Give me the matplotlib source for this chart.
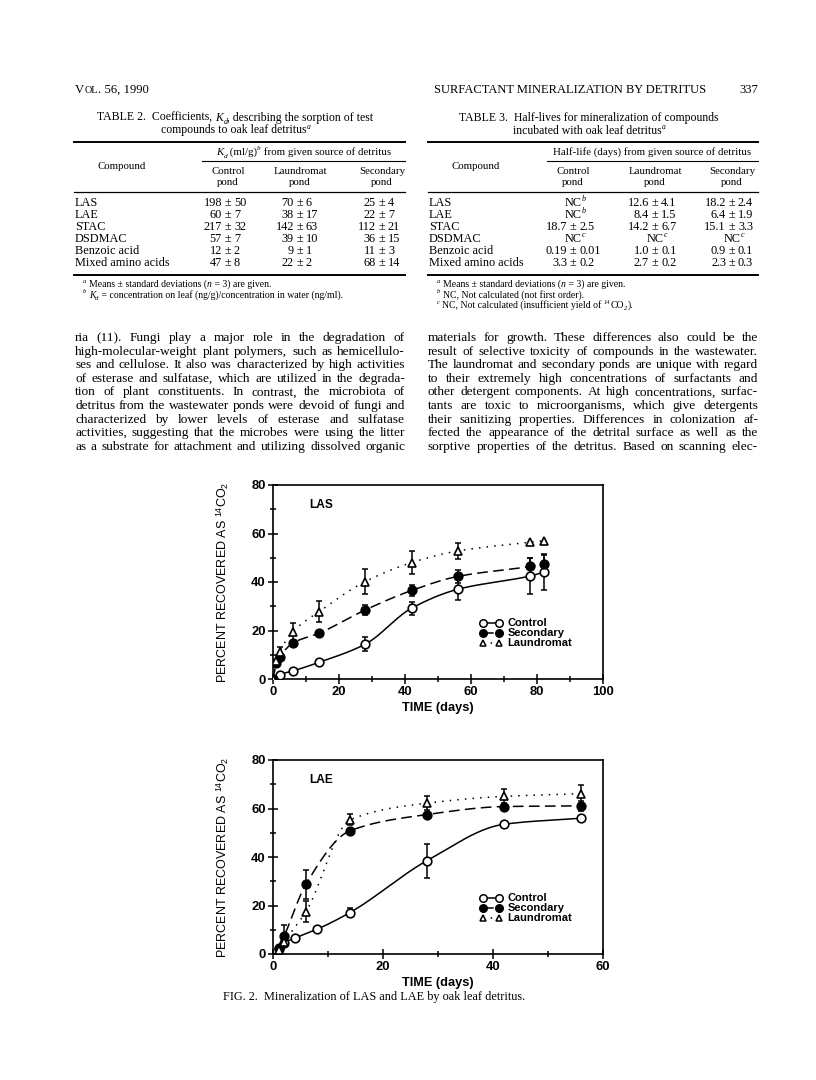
import numpy as np
import matplotlib
matplotlib.use("Agg")
import matplotlib.pyplot as plt
from matplotlib.lines import Line2D
from matplotlib.ticker import MultipleLocator

# ---- data ----
t2_compounds = ["LAS", "LAE", "STAC", "DSDMAC", "Benzoic acid", "Mixed amino acids"]
t2_control = ["198 ± 50", "60 ± 7", "217 ± 32", "57 ± 7", "12 ± 2", "47 ± 8"]
t2_laund = ["70 ± 6", "38 ± 17", "142 ± 63", "39 ± 10", "9 ± 1", "22 ± 2"]
t2_second = ["25 ± 4", "22 ± 7", "112 ± 21", "36 ± 15", "11 ± 3", "68 ± 14"]

t3_compounds = t2_compounds
t3_control = ["NC^b", "NC^b", "18.7 ± 2.5", "NC^c", "0.19 ± 0.01", "3.3 ± 0.2"]
t3_laund = ["12.6 ± 4.1", "8.4 ± 1.5", "14.2 ± 6.7", "NC^c", "1.0 ± 0.1", "2.7 ± 0.2"]
t3_second = ["18.2 ± 2.4", "6.4 ± 1.9", "15.1 ± 3.3", "NC^c", "0.9 ± 0.1", "2.3 ± 0.3"]

left_par = [
    "ria (11). Fungi play a major role in the degradation of",
    "high-molecular-weight plant polymers, such as hemicellulo-",
    "ses and cellulose. It also was characterized by high activities",
    "of esterase and sulfatase, which are utilized in the degrada-",
    "tion of plant constituents. In contrast, the microbiota of",
    "detritus from the wastewater ponds were devoid of fungi and",
    "characterized by lower levels of esterase and sulfatase",
    "activities, suggesting that the microbes were using the litter",
    "as a substrate for attachment and utilizing dissolved organic",
]
right_par = [
    "materials for growth. These differences also could be the",
    "result of selective toxicity of compounds in the wastewater.",
    "The laundromat and secondary ponds are unique with regard",
    "to their extremely high concentrations of surfactants and",
    "other detergent components. At high concentrations, surfac-",
    "tants are toxic to microorganisms, which give detergents",
    "their sanitizing properties. Differences in colonization af-",
    "fected the appearance of the detrital surface as well as the",
    "sorptive properties of the detritus. Based on scanning elec-",
]

# LAS mineralization (% recovered as 14CO2)
las_t_control = [0, 2, 6, 14, 28, 42, 56, 78, 82]
las_control = [0, 1.8, 3.3, 6.9, 14.4, 29.2, 37.0, 42.5, 44.0]
las_control_err = [0, 0, 0, 0, 3.0, 2.7, 4.5, 7.5, 7.5]
las_t_second = [0, 1, 2, 6, 14, 28, 42, 56, 78, 82]
las_second = [0, 6.6, 9.0, 14.8, 18.9, 28.5, 36.5, 42.3, 46.4, 47.3]
las_second_err = [0, 0, 0, 0, 0, 2.2, 2.2, 2.7, 3.5, 4.0]
las_t_laund = [0, 1, 2, 6, 14, 28, 42, 56, 78, 82]
las_laund = [0, 7.5, 11.2, 19.5, 27.8, 40.2, 48.0, 52.8, 56.4, 57.0]
las_laund_err = [0, 0, 2.0, 3.7, 4.2, 5.0, 4.6, 3.4, 0, 0]

# LAE mineralization
lae_t_control = [1, 2, 4, 8, 14, 28, 42, 56]
lae_control = [2.2, 4.5, 6.6, 10.2, 17.1, 38.5, 53.5, 56.0]
lae_control_err = [0, 0, 0, 0, 1.8, 7.0, 0, 0]
lae_t_second = [1, 2, 6, 14, 28, 42, 56]
lae_second = [2.5, 7.3, 28.8, 50.8, 57.5, 60.8, 61.1]
lae_second_err = [0, 4.5, 6.0, 0, 0, 1.5, 2.0]
lae_t_laund = [1, 2, 6, 14, 28, 42, 56]
lae_laund = [1.5, 5.0, 17.5, 55.3, 62.2, 65.0, 66.1]
lae_laund_err = [0, 1.5, 4.4, 2.3, 3.0, 3.0, 3.7]

W, H = 816, 1080
SERIF = "Liberation Serif"
SANS = "Liberation Sans"
plt.rcParams["mathtext.fontset"] = "custom"
plt.rcParams["mathtext.rm"] = SERIF
plt.rcParams["mathtext.it"] = SERIF + ":italic"
plt.rcParams["mathtext.bf"] = SERIF + ":bold"
plt.rcParams["mathtext.sf"] = SANS

fig = plt.figure(figsize=(W / 100, H / 100), dpi=100)
rend = fig.canvas.get_renderer()


def txt(x, y, s, size=8.6, ha="left", va="baseline", family=SERIF, **kw):
    return fig.text(x / W, 1 - y / H, s, fontsize=size, ha=ha, va=va,
                    family=family, **kw)


def rich(x, y, parts, size, ha="left"):
    # pieces: (text, kind) with kind in "", "it", "sup", "sub", "sc"
    arts = []
    for s, kind in parts:
        if kind == "sup":
            a, dy = txt(0, 0, s, size * 0.65, style="italic"), -0.42 * size
        elif kind == "sub":
            a, dy = txt(0, 0, s, size * 0.68, style="italic"), 0.25 * size
        elif kind == "it":
            a, dy = txt(0, 0, s, size, style="italic"), 0
        elif kind == "sc":
            a, dy = txt(0, 0, s, size * 0.8), 0
        else:
            a, dy = txt(0, 0, s, size), 0
        arts.append((a, a.get_window_extent(rend).width, dy * 100 / 72))
    total = sum(w for _, w, _ in arts)
    x0 = {"left": x, "center": x - total / 2, "right": x - total}[ha]
    for a, w, dy in arts:
        a.set_position((x0 / W, 1 - (y + dy) / H))
        x0 += w


def hrule(x0, x1, y, lw=0.8):
    fig.add_artist(Line2D([x0 / W, x1 / W], [1 - y / H] * 2, lw=lw,
                          color="k", transform=fig.transFigure))


def cell(xpm, y, s, size=8.6):
    if "±" in s:
        a, b = s.split(" ± ")
        txt(xpm - 6, y, a, size, ha="right")
        txt(xpm, y, "±", size, ha="center")
        txt(xpm + 6, y, b, size, ha="left")
    elif "^" in s:
        a, b = s.split("^")
        rich(xpm + 2, y, [(a, ""), (b, "sup")], size, ha="center")
    else:
        txt(xpm, y, s, size, ha="center")


def justified(lines, x0, x1, y0, dy, size):
    for k, line in enumerate(lines):
        words = line.split()
        arts = [txt(0, 0, w, size) for w in words]
        widths = [a.get_window_extent(rend).width for a in arts]
        gap = (x1 - x0 - sum(widths)) / (len(words) - 1)
        x = x0
        for a, w in zip(arts, widths):
            a.set_position((x / W, 1 - (y0 + k * dy) / H))
            x += w + gap


def table(x0, x1, title, head, sub_x0, cols, compound_x, names, values, foot):
    cx_title = (x0 + x1) / 2 - 4
    rich(cx_title, 121, title[0], 8.5, ha="center")
    rich(cx_title, 133.5, title[1], 8.5, ha="center")
    hrule(x0, x1, 142, 1.4)
    rich((sub_x0 + x1) / 2, 155, head, 7.8, ha="center")
    hrule(sub_x0, x1, 161, 0.8)
    txt(compound_x, 169, "Compound", 7.8, ha="center")
    for cx, lab in zip(cols, ["Control", "Laundromat", "Secondary"]):
        txt(cx, 174, lab, 7.8, ha="center")
        txt(cx, 185, "pond", 7.8, ha="center")
    hrule(x0, x1, 192, 0.9)
    for i, name in enumerate(names):
        y = 206 + 12.1 * i
        txt(x0 + 1, y, name, 8.8)
        for cx, col in zip(cols, values):
            cell(cx, y, col[i], 8.8)
    hrule(x0, x1, 275, 1.4)
    for j, (mark, f) in enumerate(foot):
        rich(x0 + 9, 287 + 10.5 * j, [(mark, "sup"), (" ", "")] + f, 7.0)


# ---- page header ----
rich(75, 93, [("V", ""), ("OL", "sc"), (". 56, 1990", "")], 9.2)
txt(434, 93, "SURFACTANT MINERALIZATION BY DETRITUS", 9.0)
txt(758, 93, "337", 9.0, ha="right")

table(74, 405,
      [[("TABLE 2.  Coefficients, ", ""), ("K", "it"), ("d", "sub"),
        (", describing the sorption of test", "")],
       [("compounds to oak leaf detritus", ""), ("a", "sup")]],
      [("K", "it"), ("d", "sub"), (" (ml/g)", ""), ("b", "sup"),
       (" from given source of detritus", "")], 202,
      [228, 300, 382], 122, t2_compounds, [t2_control, t2_laund, t2_second],
      [("a", [("Means ± standard deviations (", ""), ("n", "it"),
              (" = 3) are given.", "")]),
       ("b", [("K", "it"), ("d", "sub"),
              (" = concentration on leaf (ng/g)/concentration in water (ng/ml).", "")])])

table(428, 758,
      [[("TABLE 3.  Half-lives for mineralization of compounds", "")],
       [("incubated with oak leaf detritus", ""), ("a", "sup")]],
      [("Half-life (days) from given source of detritus", "")], 547,
      [573, 655, 732], 476, t3_compounds, [t3_control, t3_laund, t3_second],
      [("a", [("Means ± standard deviations (", ""), ("n", "it"),
              (" = 3) are given.", "")]),
       ("b", [("NC, Not calculated (not first order).", "")]),
       ("c", [("NC, Not calculated (insufficient yield of ", ""), ("14", "sup"),
              ("CO", ""), ("2", "sub"), (").", "")])])

justified(left_par, 75, 405, 341, 13.6, 9.6)
justified(right_par, 428, 758, 341, 13.6, 9.6)


# ---- charts ----
def pchip(x, y, n=300):
    x = np.asarray(x, float)
    y = np.asarray(y, float)
    h = np.diff(x)
    d = np.diff(y) / h
    m = np.zeros_like(y)
    m[0], m[-1] = d[0], d[-1]
    for k in range(1, len(x) - 1):
        if d[k - 1] * d[k] > 0:
            w1 = 2 * h[k] + h[k - 1]
            w2 = h[k] + 2 * h[k - 1]
            m[k] = (w1 + w2) / (w1 / d[k - 1] + w2 / d[k])
    xs = np.linspace(x[0], x[-1], n)
    i = np.clip(np.searchsorted(x, xs) - 1, 0, len(h) - 1)
    t = (xs - x[i]) / h[i]
    ys = ((2 * t**3 - 3 * t**2 + 1) * y[i] + (t**3 - 2 * t**2 + t) * h[i] * m[i]
          + (-2 * t**3 + 3 * t**2) * y[i + 1] + (t**3 - t**2) * h[i] * m[i + 1])
    return xs, ys


def series(ax, t, v, e, ls, marker, face, label):
    xs, ys = pchip(t, v)
    ax.plot(xs, ys, color="k", lw=1.1, ls=ls, zorder=2)
    e = np.asarray(e, float)
    ax.errorbar(t, v, yerr=np.where(e > 0, e, np.nan), fmt="none", ecolor="k",
                elinewidth=1.1, capsize=2.4, capthick=1.1, zorder=3)
    ax.plot(t, v, ls="none", marker=marker, ms=6.2 if marker == "o" else 5.4,
            mfc=face, mec="k", mew=1.2, zorder=4)
    return Line2D([], [], color="k", lw=1.1, ls=ls, marker=marker,
                  ms=5.4 if marker == "o" else 4.6, mfc=face, mec="k",
                  mew=1.1, label=label)


def chart(top, bottom, name, xmax, data):
    ax = fig.add_axes([273 / W, 1 - bottom / H, 330 / W, (bottom - top) / H])
    handles = []
    for (t, v, e), ls, mk, fc, lab in zip(
            data, ["-", (0, (7, 3.5)), (0, (1, 4))], ["o", "o", "^"],
            ["white", "k", "white"], ["Control", "Secondary", "Laundromat"]):
        handles.append(series(ax, t, v, e, ls, mk, fc, lab))
    ax.set_xlim(0, xmax)
    ax.set_ylim(0, 80)
    ax.xaxis.set_major_locator(MultipleLocator(20))
    ax.xaxis.set_minor_locator(MultipleLocator(10))
    ax.yaxis.set_major_locator(MultipleLocator(20))
    ax.yaxis.set_minor_locator(MultipleLocator(10))
    ax.tick_params(which="both", direction="inout", width=1.1, pad=2)
    ax.tick_params(which="major", length=6.5)
    ax.tick_params(which="minor", length=5)
    for lab in ax.get_xticklabels() + ax.get_yticklabels():
        lab.set_fontfamily(SANS)
        lab.set_fontweight("bold")
        lab.set_fontsize(9.4)
    for sp in ax.spines.values():
        sp.set_linewidth(1.2)
    ax.set_xlabel("TIME (days)", family=SANS, weight="bold", fontsize=9.2)
    ax.xaxis.set_label_coords(0.5, -0.12)
    ax.set_ylabel(r"PERCENT RECOVERED AS $^{\mathsf{14}}$CO$_{\mathsf{2}}$",
                  family=SANS, fontsize=9.0)
    ax.yaxis.set_label_coords(-0.127, 0.5)
    ax.text(0.11, 0.895, name, transform=ax.transAxes, family=SANS,
            weight="bold", fontsize=8.6, va="center")
    ax.legend(handles=handles, numpoints=2, loc="center left",
              bbox_to_anchor=(0.61, 0.235), frameon=False, handlelength=2.0,
              handletextpad=0.5, labelspacing=0.0, borderpad=0,
              prop={"family": SANS, "weight": "bold", "size": 8.0})
    return ax


chart(485, 679, "LAS", 100,
      [(las_t_control, las_control, las_control_err),
       (las_t_second, las_second, las_second_err),
       (las_t_laund, las_laund, las_laund_err)])
chart(760, 954, "LAE", 60,
      [(lae_t_control, lae_control, lae_control_err),
       (lae_t_second, lae_second, lae_second_err),
       (lae_t_laund, lae_laund, lae_laund_err)])

txt(374, 1000, "FIG. 2.  Mineralization of LAS and LAE by oak leaf detritus.",
    8.8, ha="center")

fig.savefig("out.png", dpi=100, facecolor="white")
